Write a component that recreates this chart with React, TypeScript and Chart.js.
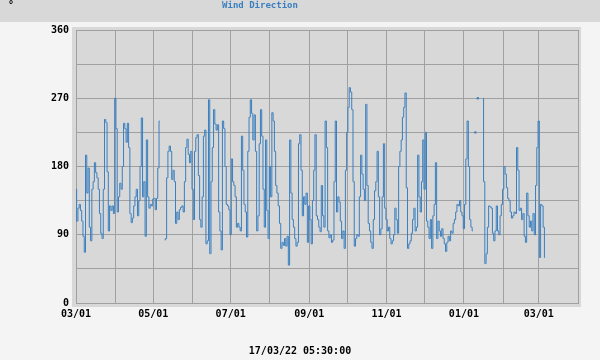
import { useEffect, useRef } from 'react';
import { Chart, registerables } from 'chart.js';

Chart.register(...registerables);

// Daily wind direction (degrees), starting 2021-03-01; null = no data
const dirMarToMay: (number | null)[] = [
  150, 108, 125, 130, 122, 108, 88, 67, 195, 145,
  178, 100, 82, 150, 160, 185, 172, 165, 150, 118,
  92, 85, 150, 242, 238, 173, 95, 128, 122, 128,
  118, 270, 230, 120, 140, 158, 150, 180, 237, 230,
  212, 237, 205, 118, 106, 112, 128, 140, 150, 115,
  135, 180, 244, 140, 160, 88, 215, 140, 125, 130,
  128, 137, 138, 123, 138, 178, 240, null, null, null,
  83, 85, 165, 200, 207,
];
const dirMayToJul: (number | null)[] = [
  200, 163, 175, 160, 105, 120, 110, 123, 126, 128,
  120, 160, 205, 216, 196, 185, 200, 150, 110, 200,
  218, 222, 168, 110, 100, 140, 220, 228, 78, 82,
  268, 65, 160, 205, 255, 236, 228, 235, 120, 95,
  70, 240, 230, 180, 130, 128, 123, 90, 190, 160,
  155, 140, 100, 105, 100, 95, 220, 175, 130, 120,
  87, 200, 245, 268, 250, 215, 248, 200, 95, 115,
  210, 255, 220, 150, 100,
];
const dirJulToOct: (number | null)[] = [
  215, 122, 85, 180, 140, 251, 240, 200, 155, 145,
  128, 105, 72, 80, 76, 85, 75, 88, 50, 215,
  145, 110, 100, 85, 75, 80, 210, 222, 175, 115,
  140, 130, 145, 80, 128, 110, 78, 135, 175, 222,
  115, 110, 100, 94, 155, 115, 100, 240, 205, 95,
  86, 90, 80, 83, 160, 240, 120, 140, 133, 108,
  85, 95, 72, 175, 225, 258, 284, 278, 255, 160,
  75, 85, 90, 88, 140,
];
const dirOctToDec: (number | null)[] = [
  195, 170, 150, 135, 262, 155, 105, 95, 80, 72,
  110, 148, 160, 200, 140, 90, 98, 140, 210, 125,
  110, 95, 100, 85, 78, 82, 90, 125, 110, 92,
  180, 200, 215, 245, 258, 277, 152, 72, 78, 82,
  92, 110, 125, 95, 100, 195, 140, 120, 160, 215,
  150, 225, 108, 100, 85, 110, 72, 115, 130, 185,
  85, 108, 95, 88, 98, 85, 78, 68, 80, 88,
  82, 95, 92, 105, 110,
];
const dirDecToMar: (number | null)[] = [
  120, 130, 128, 135, 120, 115, 98, 130, 190, 240,
  180, 110, 100, 95, null, 225, null, 270, null, null,
  null, 270, 160, 52, 65, 100, 128, 127, 125, 92,
  82, 95, 128, 95, 90, 115, 130, 150, 180, 170,
  152, 138, 135, 120, 112, 115, 120, 118, 205, 175,
  122, 125, 110, 118, 88, 80, 145, 115, 100, 108,
  95, 118, 90, 155, 205, 240, 60, 130, 128, 100,
  60,
];
const windDirection = [...dirMarToMay, ...dirMayToJul, ...dirJulToOct, ...dirOctToDec, ...dirDecToMar];

// x axis: days since 2021-03-01, gridline on each month start
const monthTickDays = [0, 31, 61, 92, 122, 153, 184, 214, 245, 275, 306, 337, 365, 396];
const monthTickLabels = ['03/01', '', '05/01', '', '07/01', '', '09/01', '', '11/01', '', '01/01', '', '03/01', ''];
const yTickValues = [0, 45, 90, 135, 180, 225, 270, 315, 360];
const yTickLabels = ['0', '', '90', '', '180', '', '270', '', '360'];

const chartTitle = 'Wind Direction';
const unitLabel = '°';
const timestampLabel = '17/03/22 05:30:00';

const MONO = "'DejaVu Sans Mono', monospace";

const decorPlugin = {
  id: 'decor',
  beforeDraw(chart: any) {
    const { ctx, chartArea: a, width, height } = chart;
    ctx.save();
    ctx.fillStyle = '#f4f4f4';
    ctx.fillRect(0, 0, width, height);
    ctx.fillStyle = '#d8d8d8';
    ctx.fillRect(0, 0, width, 22);
    ctx.fillRect(a.left - 4, a.top - 3, a.right - a.left + 7, a.bottom - a.top + 7);
    ctx.fillStyle = '#3a80c0';
    ctx.font = `bold 9px ${MONO}`;
    ctx.textAlign = 'center';
    ctx.textBaseline = 'middle';
    ctx.fillText(chartTitle, 260, 6);
    ctx.fillStyle = '#000';
    ctx.font = `bold 10px ${MONO}`;
    ctx.textAlign = 'left';
    ctx.textBaseline = 'top';
    ctx.fillText(unitLabel, 8, 0);
    ctx.textAlign = 'center';
    ctx.textBaseline = 'middle';
    ctx.fillText(timestampLabel, 300, 351);
    ctx.restore();
  },
};

export default function App() {
  const ref = useRef<HTMLCanvasElement>(null);
  useEffect(() => {
    if (!ref.current) return;
    const data = windDirection.map((v, i) => ({ x: i, y: v }));
    const chart = new Chart(ref.current, {
      type: 'line',
      data: {
        datasets: [
          {
            data: data as any,
            borderColor: '#3a7fbf',
            backgroundColor: '#3a7fbf',
            borderWidth: 1,
            stepped: 'middle',
            spanGaps: false,
            fill: false,
            pointBorderWidth: 0,
            pointRadius: (c: any) => {
              const i = c.dataIndex;
              const w = windDirection;
              return w[i] != null && w[i - 1] == null && w[i + 1] == null ? 1.2 : 0;
            },
          },
        ],
      },
      options: {
        responsive: false,
        animation: false,
        events: [],
        layout: { padding: { left: 0, top: 30, right: 22, bottom: 0 } },
        plugins: { legend: { display: false }, tooltip: { enabled: false } },
        scales: {
          x: {
            type: 'linear',
            min: 0,
            max: 396,
            afterBuildTicks: (s: any) => {
              s.ticks = monthTickDays.map((v) => ({ value: v }));
            },
            afterFit: (s: any) => {
              s.height = 57;
            },
            ticks: {
              autoSkip: false,
              maxRotation: 0,
              padding: 5,
              color: '#000',
              font: { family: MONO, size: 10, weight: 'bold' },
              callback: (v: any) => monthTickLabels[monthTickDays.indexOf(Number(v))] ?? '',
            },
            grid: { color: '#a0a0a0', drawTicks: false, lineWidth: 1 },
            border: { display: true, color: '#a0a0a0' },
          },
          y: {
            type: 'linear',
            min: 0,
            max: 360,
            afterBuildTicks: (s: any) => {
              s.ticks = yTickValues.map((v) => ({ value: v }));
            },
            afterFit: (s: any) => {
              s.width = 76;
            },
            ticks: {
              autoSkip: false,
              padding: 7,
              color: '#000',
              font: { family: MONO, size: 10, weight: 'bold' },
              callback: (v: any) => yTickLabels[yTickValues.indexOf(Number(v))] ?? '',
            },
            grid: { color: '#a0a0a0', drawTicks: false, lineWidth: 1 },
            border: { display: true, color: '#a0a0a0' },
          },
        },
      } as any,
      plugins: [decorPlugin],
    });
    return () => chart.destroy();
  }, []);
  return (
    <div style={{ position: 'absolute', left: 0, top: 0, width: 600, height: 360 }}>
      <canvas ref={ref} width={600} height={360} />
    </div>
  );
}
